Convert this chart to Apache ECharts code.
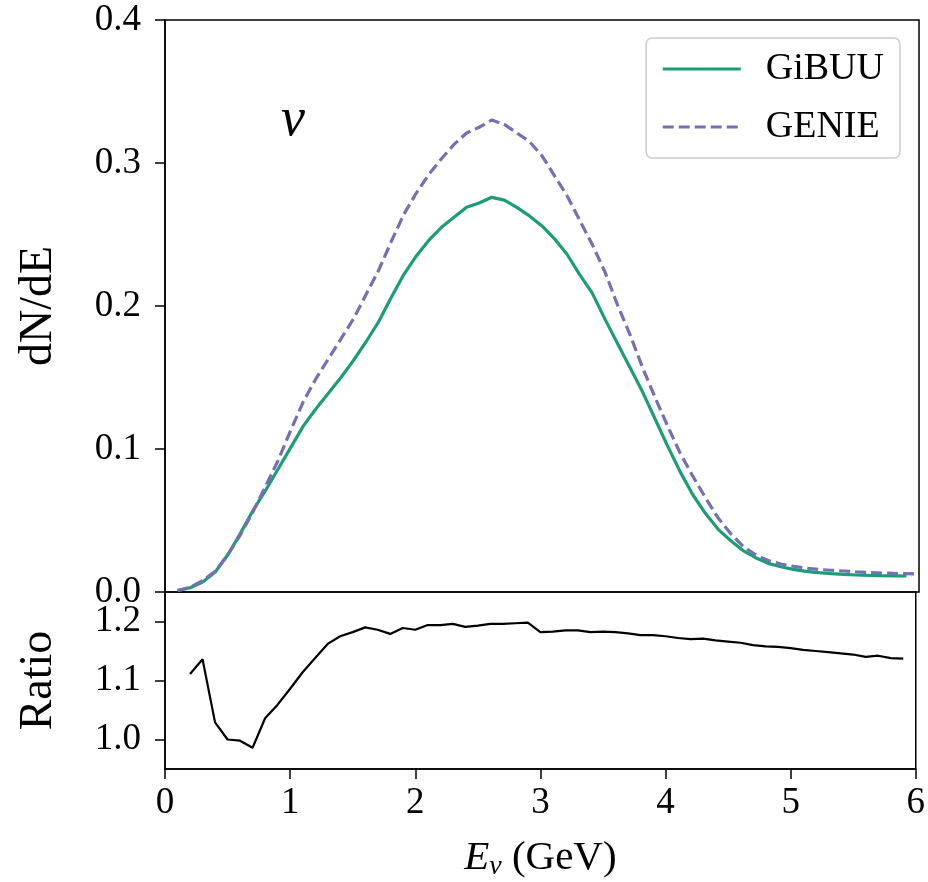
<!DOCTYPE html>
<html>
<head>
<meta charset="utf-8">
<script src="https://cdn.jsdelivr.net/npm/echarts@6/dist/echarts.min.js"></script>
<style>html,body{margin:0;padding:0;background:#fff}#c{width:928px;height:882px}</style>
</head>
<body>
<div id="c"></div>
<script>
// Energies (GeV)
const energies = [0.1,0.2,0.3,0.4,0.5,0.6,0.7,0.8,0.9,1.0,1.1,1.2,1.3,1.4,1.5,1.6,1.7,1.8,1.9,2.0,
  2.1,2.2,2.3,2.4,2.5,2.6,2.7,2.8,2.9,3.0,3.1,3.2,3.3,3.4,3.5,3.6,3.7,3.8,3.9,4.0,
  4.1,4.2,4.3,4.4,4.5,4.6,4.7,4.8,4.9,5.0,5.1,5.2,5.3,5.4,5.5,5.6,5.7,5.8,5.9,6.0];
// GiBUU dN/dE (0.1 .. 5.9)
const gibuu = [0.001,0.003,0.007,0.014,0.026,0.041,0.057,0.071,0.086,0.101,
  0.116,0.128,0.139,0.150,0.162,0.175,0.189,0.206,0.222,0.235,
  0.246,0.255,0.262,0.269,0.272,0.276,0.274,0.269,0.263,0.256,
  0.247,0.236,0.222,0.209,0.191,0.174,0.157,0.140,0.121,0.102,
  0.084,0.068,0.055,0.044,0.036,0.029,0.024,0.020,0.0177,0.0158,
  0.0144,0.0135,0.0128,0.0123,0.0119,0.0116,0.0114,0.0113,0.0112];
// GENIE dN/dE (0.1 .. 6.0)
const genie = [0.001,0.0033,0.008,0.0145,0.026,0.040,0.056,0.074,0.092,0.113,
  0.133,0.149,0.163,0.177,0.191,0.208,0.225,0.245,0.264,0.279,
  0.292,0.303,0.313,0.321,0.325,0.330,0.327,0.321,0.315,0.305,
  0.291,0.277,0.260,0.243,0.224,0.201,0.180,0.157,0.136,0.116,
  0.097,0.081,0.066,0.052,0.041,0.032,0.026,0.022,0.0196,0.018,
  0.0167,0.0158,0.0152,0.0147,0.0141,0.0137,0.0133,0.0130,0.0128,0.0126];
// Ratio GENIE/GiBUU (0.2 .. 5.9)
const ratio = [1.111,1.136,1.029,1.000,0.998,0.986,1.036,1.059,1.086,1.114,
  1.138,1.162,1.175,1.182,1.190,1.186,1.179,1.189,1.186,1.194,
  1.194,1.196,1.191,1.193,1.196,1.196,1.197,1.198,1.182,1.183,
  1.185,1.185,1.182,1.183,1.182,1.180,1.177,1.177,1.175,1.172,
  1.170,1.171,1.168,1.166,1.164,1.160,1.158,1.157,1.155,1.152,
  1.150,1.148,1.146,1.144,1.140,1.142,1.138,1.137];
const xTicks = [0,1,2,3,4,5,6];
const yTicksTop = [0.0,0.1,0.2,0.3,0.4];
const yTicksRatio = [1.0,1.1,1.2];

const gibuuData = gibuu.map((v,i)=>[energies[i], v]);
const genieData = genie.map((v,i)=>[energies[i], v]);
const ratioData = ratio.map((v,i)=>[energies[i+1], v]);

const FONT = "Liberation Serif";
const GREEN = '#1b9e77', PURPLE = '#7570b3';

const chart = echarts.init(document.getElementById('c'), null, {renderer:'canvas'});
const tickStyle = {show:true, inside:false, length:10, lineStyle:{color:'#000', width:1.5}};
const labelStyle = {color:'#000', fontFamily:FONT, fontSize:37};

chart.setOption({
  animation:false,
  backgroundColor:'#fff',
  grid:[
    {left:165, right:9, top:20, height:572, show:true, borderColor:'#000', borderWidth:1.5, backgroundColor:'transparent'},
    {left:165, right:9, top:592, height:181, show:true, borderColor:'#000', borderWidth:1.5, backgroundColor:'transparent'}
  ],
  xAxis:[
    {type:'value', gridIndex:0, min:0, max:6, interval:1, axisLine:{show:false}, axisTick:{show:false}, axisLabel:{show:false}, splitLine:{show:false}},
    {type:'value', gridIndex:1, min:0, max:6, interval:1,
     axisLine:{show:true, lineStyle:{color:'#000', width:1.5}}, axisTick:tickStyle,
     axisLabel:Object.assign({margin:16, formatter:v=>String(v)}, labelStyle), splitLine:{show:false},
     name:'{i|E}{s|ν} {n|(GeV)}', nameLocation:'middle', nameGap:66,
     nameTextStyle:{color:'#000', fontFamily:FONT, fontSize:41,
       rich:{i:{fontFamily:FONT, fontStyle:'italic', fontSize:41, color:'#000'},
             s:{fontFamily:FONT, fontStyle:'italic', fontSize:28, color:'#000', padding:[18,0,0,0]},
             n:{fontFamily:FONT, fontSize:41, color:'#000'}}}}
  ],
  yAxis:[
    {type:'value', gridIndex:0, min:0, max:0.4, interval:0.1,
     axisLine:{show:true, lineStyle:{color:'#000', width:1.5}}, axisTick:tickStyle,
     axisLabel:Object.assign({margin:24, formatter:v=>v.toFixed(1)}, labelStyle), splitLine:{show:false},
     name:'dN/dE', nameLocation:'middle', nameGap:103, nameTextStyle:{color:'#000', fontFamily:FONT, fontSize:46}},
    {type:'value', gridIndex:1, min:0.95, max:1.25,
     axisLine:{show:true, lineStyle:{color:'#000', width:1.5}},
     axisTick:Object.assign({customValues:yTicksRatio}, tickStyle),
     axisLabel:Object.assign({margin:24, customValues:yTicksRatio, formatter:v=>v.toFixed(1)}, labelStyle), splitLine:{show:false},
     name:'Ratio', nameLocation:'middle', nameGap:103, nameTextStyle:{color:'#000', fontFamily:FONT, fontSize:46}}
  ],
  legend:{
    data:['GiBUU','GENIE'], orient:'vertical', right:28, top:38,
    backgroundColor:'#fff', borderColor:'#cccccc', borderWidth:1.5, borderRadius:6,
    padding:[12,16,12,15], itemWidth:78, itemHeight:22, itemGap:20,
    itemStyle:{opacity:0},
    lineStyle:{width:3.2},
    textStyle:{color:'#000', fontFamily:FONT, fontSize:38, padding:[0,0,0,20]}
  },
  graphic:[
    {type:'text', left:281, top:94, style:{text:'ν', fill:'#000', font:"italic 54px 'Liberation Serif'"}}
  ],
  series:[
    {name:'GiBUU', type:'line', xAxisIndex:0, yAxisIndex:0, data:gibuuData, showSymbol:false, symbol:'none',
     lineStyle:{color:GREEN, width:3.2}, itemStyle:{color:GREEN}, z:3},
    {name:'GENIE', type:'line', xAxisIndex:0, yAxisIndex:0, data:genieData, showSymbol:false, symbol:'none',
     lineStyle:{color:PURPLE, width:3.2, type:[11,5]}, itemStyle:{color:PURPLE}, z:4},
    {name:'Ratio', type:'line', xAxisIndex:1, yAxisIndex:1, data:ratioData, showSymbol:false, symbol:'none',
     lineStyle:{color:'#000', width:2.2}, itemStyle:{color:'#000'}}
  ]
});
</script>
</body>
</html>
